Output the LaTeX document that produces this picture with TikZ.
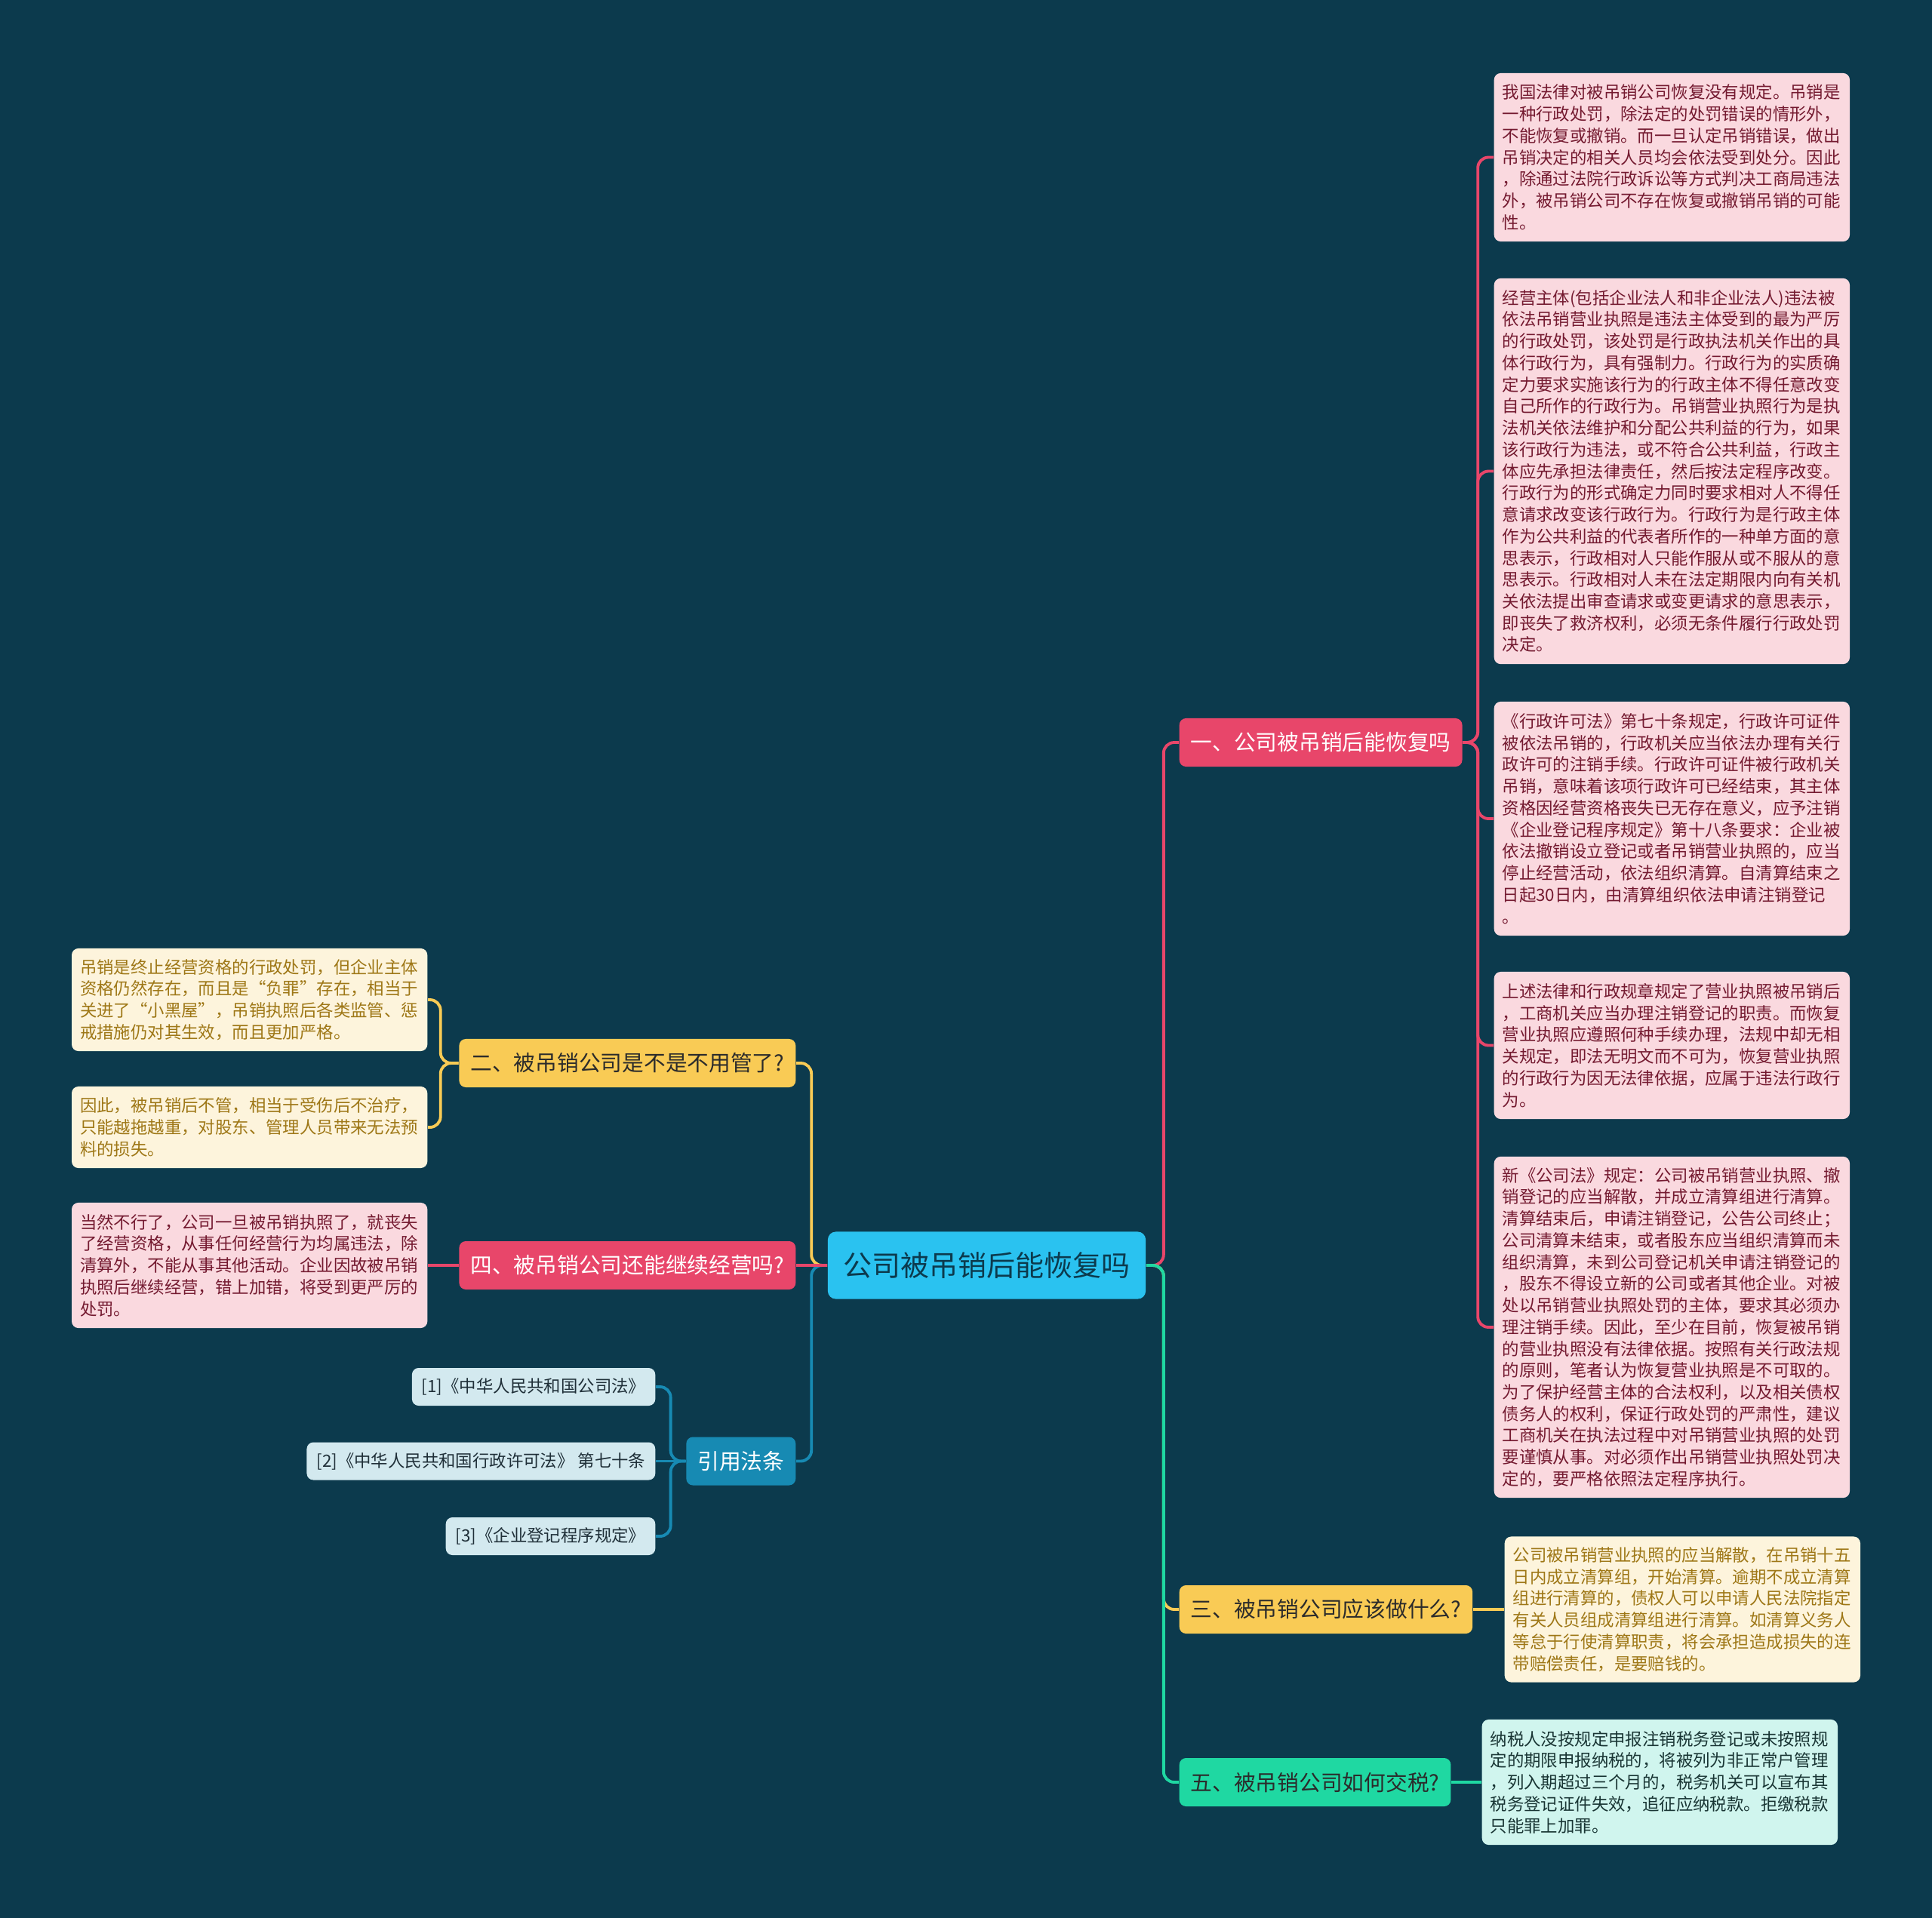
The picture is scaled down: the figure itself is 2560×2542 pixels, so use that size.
\documentclass[tikz,border=0pt]{standalone}
\usepackage{fontspec}
\setmainfont{Noto Sans CJK SC}

\definecolor{bgteal}{HTML}{0C3A4D}
\definecolor{mmred}{HTML}{E8466A}
\definecolor{mmyellow}{HTML}{F9CB55}
\definecolor{mmgreen}{HTML}{1FD8A2}
\definecolor{mmcyan}{HTML}{2AC2F0}
\definecolor{mmblue}{HTML}{178AB3}
\definecolor{pinkfill}{HTML}{FAD9DF}
\definecolor{pinktext}{HTML}{741A30}
\definecolor{creamfill}{HTML}{FDF4DC}
\definecolor{creamtext}{HTML}{9E7716}
\definecolor{mintfill}{HTML}{D0F5EE}
\definecolor{minttext}{HTML}{193534}
\definecolor{citefill}{HTML}{D3E9EF}
\definecolor{citetext}{HTML}{1F2F38}
\definecolor{darktext}{HTML}{2B2B2B}

\begin{document}
\begin{tikzpicture}[x=0.01cm,y=-0.01cm,
  every node/.style={inner sep=0pt},
  branch/.style={rounded corners=2.5pt, minimum height=0.64cm, inner xsep=0.15cm, font=\fontsize{8.17}{9.8}\selectfont},
  leaf/.style={rounded corners=2.5pt, text width=4.49cm, inner xsep=0.11cm, align=left, font=\fontsize{6.37}{8.17}\selectfont},
  cite/.style={rounded corners=2.5pt, minimum height=0.5cm, inner xsep=0.13cm, fill=citefill, text=citetext, font=\fontsize{6.37}{8.17}\selectfont},
  link/.style={line width=1.1pt, rounded corners=4pt}]
\fill[bgteal] (0,0) rectangle (2560,2542);
\useasboundingbox (0,0) rectangle (2560,2542);

% root
\node[rounded corners=3pt, fill=mmcyan, text=bgteal, minimum width=4.21cm, minimum height=0.89cm,
  font=\fontsize{10.8}{13}\selectfont] (root) at (1307.5,1677) {公司被吊销后能恢复吗};

% right side branches
\node[branch, anchor=west, fill=mmred, text=white] (b1) at (1562,984) {一、公司被吊销后能恢复吗};
\node[branch, anchor=west, fill=mmyellow, text=darktext] (b3) at (1562,2133) {三、被吊销公司应该做什么?};
\node[branch, anchor=west, fill=mmgreen, text=darktext] (b5) at (1562,2362) {五、被吊销公司如何交税?};

% left side branches
\node[branch, anchor=east, fill=mmyellow, text=darktext] (b2) at (1055,1409) {二、被吊销公司是不是不用管了?};
\node[branch, anchor=east, fill=mmred, text=white] (b4) at (1055,1677) {四、被吊销公司还能继续经营吗?};
\node[branch, anchor=east, fill=mmblue, text=white] (law) at (1055,1936.5) {引用法条};

% leaves of branch one
\node[leaf, anchor=west, fill=pinkfill, text=pinktext, minimum height=2.23cm] (r1) at (1979,208.5) {%
我国法律对被吊销公司恢复没有规定。吊销是\\
一种行政处罚，除法定的处罚错误的情形外，\\
不能恢复或撤销。而一旦认定吊销错误，做出\\
吊销决定的相关人员均会依法受到处分。因此\\
，除通过法院行政诉讼等方式判决工商局违法\\
外，被吊销公司不存在恢复或撤销吊销的可能\\
性。};
\node[leaf, anchor=west, fill=pinkfill, text=pinktext, minimum height=5.11cm] (r2) at (1979,624.5) {%
经营主体(包括企业法人和非企业法人)违法被\\
依法吊销营业执照是违法主体受到的最为严厉\\
的行政处罚，该处罚是行政执法机关作出的具\\
体行政行为，具有强制力。行政行为的实质确\\
定力要求实施该行为的行政主体不得任意改变\\
自己所作的行政行为。吊销营业执照行为是执\\
法机关依法维护和分配公共利益的行为，如果\\
该行政行为违法，或不符合公共利益，行政主\\
体应先承担法律责任，然后按法定程序改变。\\
行政行为的形式确定力同时要求相对人不得任\\
意请求改变该行政行为。行政行为是行政主体\\
作为公共利益的代表者所作的一种单方面的意\\
思表示，行政相对人只能作服从或不服从的意\\
思表示。行政相对人未在法定期限内向有关机\\
关依法提出审查请求或变更请求的意思表示，\\
即丧失了救济权利，必须无条件履行行政处罚\\
决定。};
\node[leaf, anchor=west, fill=pinkfill, text=pinktext, minimum height=3.10cm] (r3) at (1979,1085) {%
《行政许可法》第七十条规定，行政许可证件\\
被依法吊销的，行政机关应当依法办理有关行\\
政许可的注销手续。行政许可证件被行政机关\\
吊销，意味着该项行政许可已经结束，其主体\\
资格因经营资格丧失已无存在意义，应予注销\\
《企业登记程序规定》第十八条要求：企业被\\
依法撤销设立登记或者吊销营业执照的，应当\\
停止经营活动，依法组织清算。自清算结束之\\
日起30日内，由清算组织依法申请注销登记\\
。};
\node[leaf, anchor=west, fill=pinkfill, text=pinktext, minimum height=1.95cm] (r4) at (1979,1385.5) {%
上述法律和行政规章规定了营业执照被吊销后\\
，工商机关应当办理注销登记的职责。而恢复\\
营业执照应遵照何种手续办理，法规中却无相\\
关规定，即法无明文而不可为，恢复营业执照\\
的行政行为因无法律依据，应属于违法行政行\\
为。};
\node[leaf, anchor=west, fill=pinkfill, text=pinktext, minimum height=4.52cm] (r5) at (1979,1759) {%
新《公司法》规定：公司被吊销营业执照、撤\\
销登记的应当解散，并成立清算组进行清算。\\
清算结束后，申请注销登记，公告公司终止；\\
公司清算未结束，或者股东应当组织清算而未\\
组织清算，未到公司登记机关申请注销登记的\\
，股东不得设立新的公司或者其他企业。对被\\
处以吊销营业执照处罚的主体，要求其必须办\\
理注销手续。因此，至少在目前，恢复被吊销\\
的营业执照没有法律依据。按照有关行政法规\\
的原则，笔者认为恢复营业执照是不可取的。\\
为了保护经营主体的合法权利，以及相关债权\\
债务人的权利，保证行政处罚的严肃性，建议\\
工商机关在执法过程中对吊销营业执照的处罚\\
要谨慎从事。对必须作出吊销营业执照处罚决\\
定的，要严格依照法定程序执行。};

% leaves of branches three and five
\node[leaf, anchor=west, fill=creamfill, text=creamtext, minimum height=1.93cm] (r6) at (1993,2133) {%
公司被吊销营业执照的应当解散，在吊销十五\\
日内成立清算组，开始清算。逾期不成立清算\\
组进行清算的，债权人可以申请人民法院指定\\
有关人员组成清算组进行清算。如清算义务人\\
等怠于行使清算职责，将会承担造成损失的连\\
带赔偿责任，是要赔钱的。};
\node[leaf, anchor=west, fill=mintfill, text=minttext, minimum height=1.66cm] (r7) at (1963,2362) {%
纳税人没按规定申报注销税务登记或未按照规\\
定的期限申报纳税的，将被列为非正常户管理\\
，列入期超过三个月的，税务机关可以宣布其\\
税务登记证件失效，追征应纳税款。拒缴税款\\
只能罪上加罪。};

% left leaves
\node[leaf, anchor=east, fill=creamfill, text=creamtext, minimum height=1.36cm] (l1) at (567,1325) {%
吊销是终止经营资格的行政处罚，但企业主体\\
资格仍然存在，而且是“负罪”存在，相当于\\
关进了“小黑屋”，吊销执照后各类监管、惩\\
戒措施仍对其生效，而且更加严格。};
\node[leaf, anchor=east, fill=creamfill, text=creamtext, minimum height=1.08cm] (l2) at (567,1494) {%
因此，被吊销后不管，相当于受伤后不治疗，\\
只能越拖越重，对股东、管理人员带来无法预\\
料的损失。};
\node[leaf, anchor=east, fill=pinkfill, text=pinktext, minimum height=1.66cm] (l3) at (567,1677) {%
当然不行了，公司一旦被吊销执照了，就丧失\\
了经营资格，从事任何经营行为均属违法，除\\
清算外，不能从事其他活动。企业因故被吊销\\
执照后继续经营，错上加错，将受到更严厉的\\
处罚。};

% cited laws
\node[cite, anchor=east] (c1) at (869,1838) {[1]《中华人民共和国公司法》};
\node[cite, anchor=east] (c2) at (869,1936.5) {[2]《中华人民共和国行政许可法》 第七十条};
\node[cite, anchor=east] (c3) at (869,2036) {[3]《企业登记程序规定》};

% connectors, root to branches
\draw[link, mmred] (root.east) -- ++(23,0) |- (b1.west);
\draw[link, mmyellow] (root.east) -- ++(23,0) |- (b3.west);
\draw[link, mmgreen] (root.east) -- ++(23,0) |- (b5.west);
\draw[link, mmyellow] (root.west) -- ++(-21,0) |- (b2.east);
\draw[link, mmblue] (root.west) -- ++(-21,0) |- (law.east);
\draw[link, mmred] (root.west) -- (b4.east);

% connectors, branches to leaves
\foreach \r in {r1,r2,r3,r4,r5}
  \draw[link, mmred] (b1.east) -- ++(20,0) |- (\r.west);
\draw[link, mmyellow] (b3.east) -- (r6.west);
\draw[link, mmgreen] (b5.east) -- (r7.west);
\foreach \l in {l1,l2}
  \draw[link, mmyellow] (b2.west) -- ++(-24,0) |- (\l.east);
\draw[link, mmred] (b4.west) -- (l3.east);
\draw[link, mmblue] (law.west) -- (c2.east);
\foreach \c in {c1,c3}
  \draw[link, mmblue] (law.west) -- ++(-20,0) |- (\c.east);
\end{tikzpicture}
\end{document}
